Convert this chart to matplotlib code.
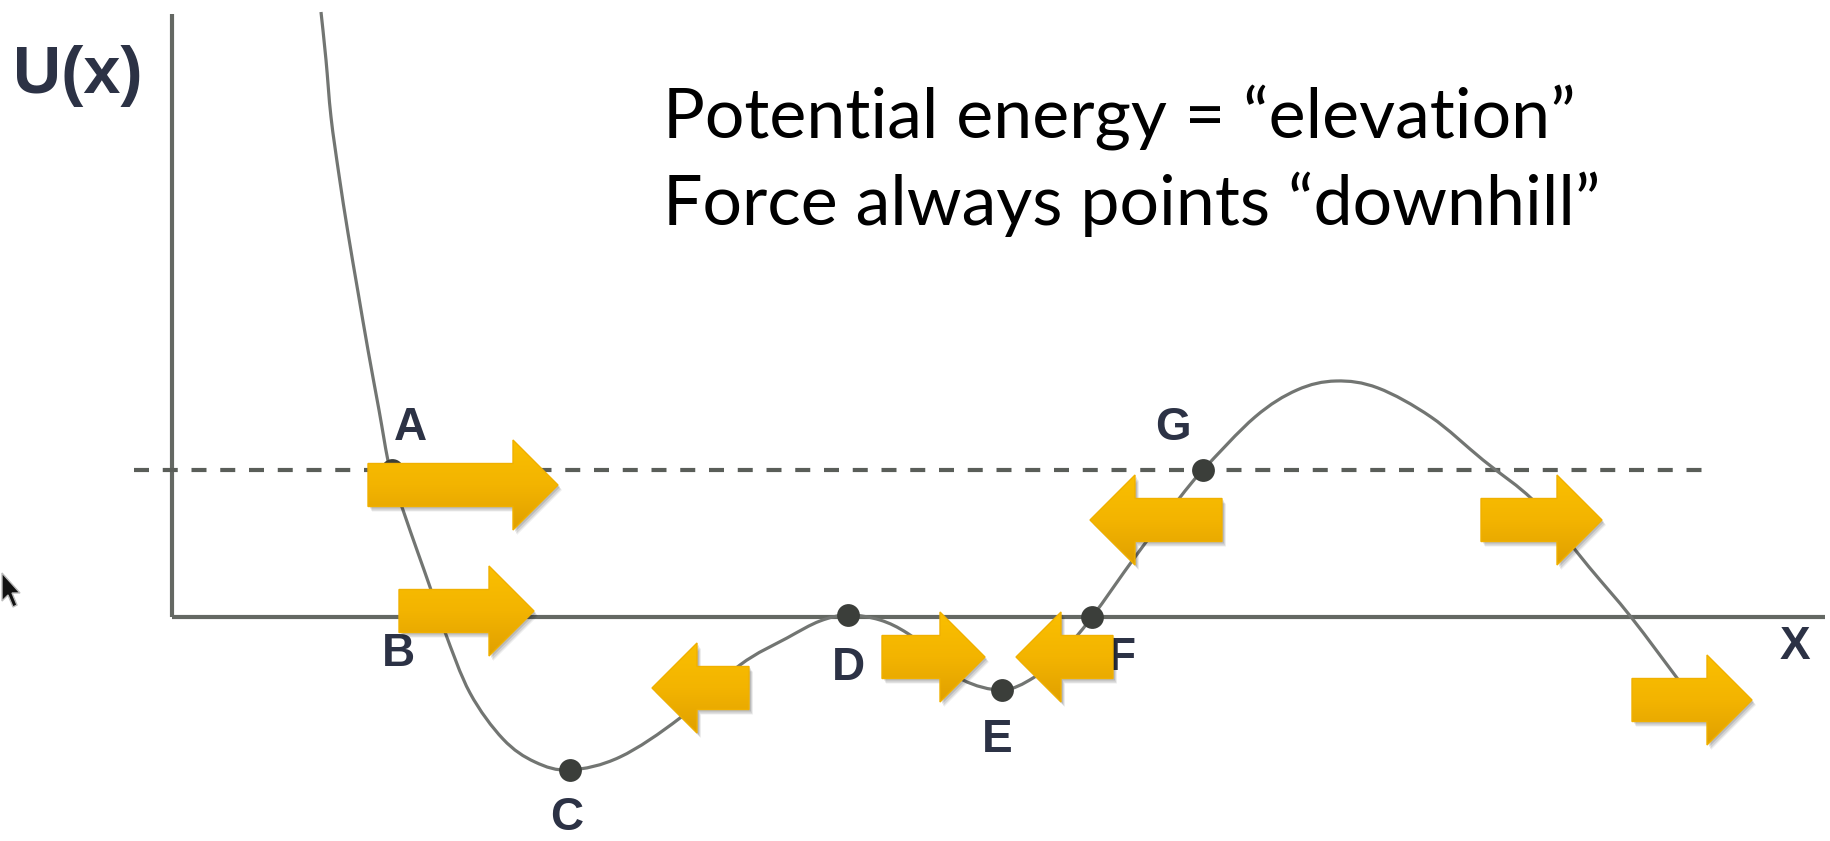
import matplotlib
matplotlib.use("Agg")
import matplotlib.pyplot as plt
import numpy as np
from matplotlib.patches import Polygon, PathPatch
from matplotlib.path import Path
from matplotlib.colors import LinearSegmentedColormap

# potential energy curve U(x) (arbitrary units)
curve_x = [149, 154, 159, 167, 176, 186, 196, 207, 218, 231, 246, 258, 273, 298,
           331, 363, 398, 448, 508, 568, 615, 648, 676, 708, 735, 763, 791,
           830, 861, 888, 920, 963, 1006, 1031, 1083, 1125, 1164,
           1206, 1259, 1311, 1364, 1417, 1459, 1508]
curve_u = [605, 557, 500, 442, 384, 325, 267, 207, 147, 107, 64, 30, -15, -76,
           -122, -145, -153, -140, -101, -48, -21, -4, 2, -3, -16, -38, -63,
           -73, -61, -38, 0, 60, 117, 147, 200, 227, 236,
           229, 200, 157, 114, 50, 0, -65]

# marked points
point_names = ["A", "B", "C", "D", "E", "F", "G"]
point_x = [220, 265, 398, 676, 830, 920, 1031]
point_u = [147, 0, -153, 2, -73, 0, 147]
label_x = [238, 226, 395, 676, 825, 950, 1001]
label_u = [189, -37, -201, -51, -123, -41, 189]

# total energy level (dashed)
energy_level = 147
energy_x = [-38, 1538]

# force arrows: tail x, tip x, height
arrow_tail = [196, 227, 577, 710, 941, 1050, 1309, 1460]
arrow_tip = [386, 362, 480, 813, 844, 918, 1430, 1580]
arrow_u = [132, 6, -71, -40, -40, 97, 97, -83]

title_lines = ["Potential energy = \u201celevation\u201d",
               "Force always points \u201cdownhill\u201d"]


def smooth_path(xs, ys):
    # Catmull-Rom through the read points, drawn as cubic Bezier segments
    p = np.column_stack([xs, ys]).astype(float)
    verts, codes = [p[0]], [Path.MOVETO]
    for i in range(len(p) - 1):
        p0 = p[i - 1] if i > 0 else p[i]
        p3 = p[i + 2] if i + 2 < len(p) else p[i + 1]
        verts += [p[i] + (p[i + 1] - p0) / 6, p[i + 1] - (p3 - p[i]) / 6, p[i + 1]]
        codes += [Path.CURVE4] * 3
    return Path(verts, codes)


fig = plt.figure(figsize=(18.31, 8.41), dpi=100)
ax = fig.add_axes([0, 0, 1, 1])
ax.set_axis_off()

axis_col = "#646863"
ax.plot([0, 0], [0, 603], color=axis_col, lw=3.0, solid_capstyle="butt", zorder=2)
ax.plot([0, 1653], [0, 0], color=axis_col, lw=3.0, solid_capstyle="butt", zorder=2)

ax.plot(energy_x, [energy_level, energy_level], color="#5a5e59", lw=3.0,
        linestyle=(0, (3.6, 3.3)), zorder=2)

ax.add_patch(PathPatch(smooth_path(curve_x, curve_u), fill=False,
                       ec="#727572", lw=2.3, zorder=3))
ax.scatter(point_x, point_u, s=270, color="#3b3e3a", zorder=4, linewidths=0)

label_font = dict(family=["Liberation Sans", "DejaVu Sans"], fontweight="bold",
                  color="#2c3245", fontsize=33)
for name, lx, lu in zip(point_names, label_x, label_u):
    ax.text(lx, lu, name, ha="center", va="center", **label_font)
ax.text(1623, -30, "X", ha="center", va="center", **label_font)
ax.text(-94, 541, "U(x)", ha="center", va="center",
        **{**label_font, "fontsize": 48})

# block arrows with a vertical gradient and soft shadow
cmap = LinearSegmentedColormap.from_list("gold", ["#e0a000", "#f3b400", "#fabf00"])
grad = np.linspace(0, 1, 128).reshape(-1, 1)
body_half, head_half, head_len = 21.5, 45, 45
for tail, tip, yc in zip(arrow_tail, arrow_tip, arrow_u):
    s = np.sign(tip - tail)
    hb = tip - s * head_len
    verts = np.array([[tail, yc + body_half], [hb, yc + body_half], [hb, yc + head_half],
                      [tip, yc], [hb, yc - head_half], [hb, yc - body_half],
                      [tail, yc - body_half]])
    for off, a in [((4, -5), 0.07), ((3, -4), 0.10), ((2, -2), 0.12)]:
        ax.add_patch(Polygon(verts + np.array(off), closed=True, fc="black",
                             ec="none", alpha=a, zorder=5))
    poly = Polygon(verts, closed=True, fc="none", ec="#f0b000", lw=1.0, zorder=7)
    ax.add_patch(poly)
    im = ax.imshow(grad, cmap=cmap, origin="lower", aspect="auto", zorder=6,
                   extent=[min(tail, tip), max(tail, tip), yc - head_half, yc + head_half])
    im.set_clip_path(poly)

# mouse pointer remnant at the left edge
cursor = np.array([[-170, 44], [-170, 16], [-164, 22], [-159, 10], [-155, 12],
                   [-160, 24], [-152, 24]])
ax.add_patch(Polygon(cursor, closed=True, fc="#111111", ec="#bbbbbb", lw=1, zorder=3))

title_font = dict(family=["Lato", "Liberation Sans"],
                  fontsize=50.3, color="black", ha="left", va="baseline")
ax.text(491, 480, title_lines[0], **title_font)
ax.text(491, 392, title_lines[1], **title_font)

ax.set_xlim(-172, 1659)
ax.set_ylim(-224, 617)

fig.savefig("out.png", dpi=100, facecolor="white")
